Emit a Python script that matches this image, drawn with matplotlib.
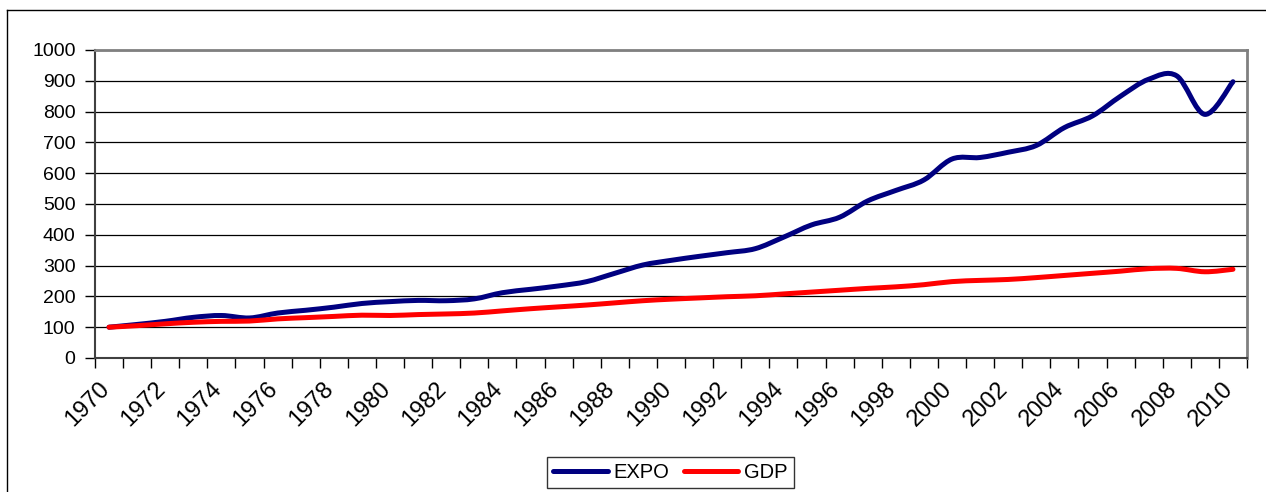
import matplotlib
matplotlib.use("Agg")
import matplotlib.pyplot as plt
import matplotlib.transforms as mtransforms
from matplotlib.path import Path
from matplotlib.patches import PathPatch
from matplotlib.lines import Line2D
import numpy as np

years = list(range(1970, 2011))
expo = [100, 109, 119, 132, 138, 130, 146, 155, 165, 177,
        183, 187, 186, 192, 212, 223, 234, 248, 275, 302,
        317, 330, 342, 355, 392, 432, 457, 510, 544, 578,
        646, 651, 668, 690, 748, 786, 850, 905, 916, 791,
        897]
gdp = [100, 105, 111, 116, 119, 120, 127, 131, 135, 139,
       138, 141, 143, 146, 153, 160, 166, 172, 179, 186,
       191, 195, 199, 202, 208, 214, 220, 226, 231, 238,
       248, 252, 255, 261, 268, 275, 282, 290, 291, 280,
       288]
series_names = ["EXPO", "GDP"]
series_colors = ["#000080", "#ff0000"]

plt.rcParams["font.family"] = ["Liberation Sans", "DejaVu Sans"]


def smooth_path(xs, ys):
    # Catmull-Rom through the points, written as cubic Bezier segments
    pts = np.column_stack([xs, ys]).astype(float)
    n = len(pts)
    verts = [pts[0]]
    codes = [Path.MOVETO]
    for i in range(n - 1):
        p0 = pts[i - 1] if i > 0 else pts[i]
        p1 = pts[i]
        p2 = pts[i + 1]
        p3 = pts[i + 2] if i + 2 < n else pts[i + 1]
        c1 = p1 + (p2 - p0) / 6.0
        c2 = p2 - (p3 - p1) / 6.0
        verts += [c1, c2, p2]
        codes += [Path.CURVE4] * 3
    return Path(verts, codes)


fig = plt.figure(figsize=(12.66, 4.92), dpi=100)
ax = fig.add_axes([95 / 1266, 1 - 358 / 492, (1247 - 95) / 1266, (358 - 50) / 492])

x = np.arange(len(years))
for vals, name, col in zip([expo, gdp], series_names, series_colors):
    patch = PathPatch(smooth_path(x, vals), facecolor="none", edgecolor=col,
                      lw=3.6, capstyle="round", joinstyle="round", zorder=3)
    ax.add_patch(patch)

ax.set_xlim(-0.5, len(years) - 0.5)
ax.set_ylim(0, 1000)

ax.set_yticks(range(0, 1001, 100))
ax.yaxis.grid(True, color="black", lw=0.9)
ax.set_axisbelow(True)
ax.tick_params(axis="y", direction="out", length=7, width=1, pad=7, labelsize=14)

ax.set_xticks(x[::2])
ax.set_xticks(np.arange(-0.5, len(years), 1.0), minor=True)
ax.set_xticklabels([str(y) for y in years[::2]])
ax.tick_params(axis="x", which="major", length=0, pad=14.5, labelsize=17,
               labelrotation=45)
ax.tick_params(axis="x", which="minor", direction="out", length=7, width=1)
shift = mtransforms.ScaledTranslation(-11 / 100, 0, fig.dpi_scale_trans)
for lab in ax.get_xticklabels():
    lab.set_ha("right")
    lab.set_rotation_mode("anchor")
    lab.set_transform(lab.get_transform() + shift)

for side in ["top", "right"]:
    ax.spines[side].set_color("#808080")
    ax.spines[side].set_linewidth(2)
for side in ["left", "bottom"]:
    ax.spines[side].set_color("#404040")
    ax.spines[side].set_linewidth(1.5)

# outer chart frame
fig.add_artist(Line2D([7 / 1266, 7 / 1266], [-0.1, 1 - 10 / 492], color="black", lw=1))
fig.add_artist(Line2D([7 / 1266, 1.1], [1 - 10 / 492, 1 - 10 / 492], color="black", lw=1))

handles = [Line2D([], [], color=c, lw=3.6, solid_capstyle="round") for c in series_colors]
leg = fig.legend(handles, series_names, loc="center",
                 bbox_to_anchor=(670.5 / 1266, 1 - 472.5 / 492), ncol=2,
                 fontsize=14.5, frameon=True, fancybox=False, edgecolor="black",
                 handlelength=2.7, handletextpad=0.3, columnspacing=0.7,
                 borderpad=0.3, borderaxespad=0)
leg.get_frame().set_linewidth(1)

fig.savefig("out.png", dpi=100)
